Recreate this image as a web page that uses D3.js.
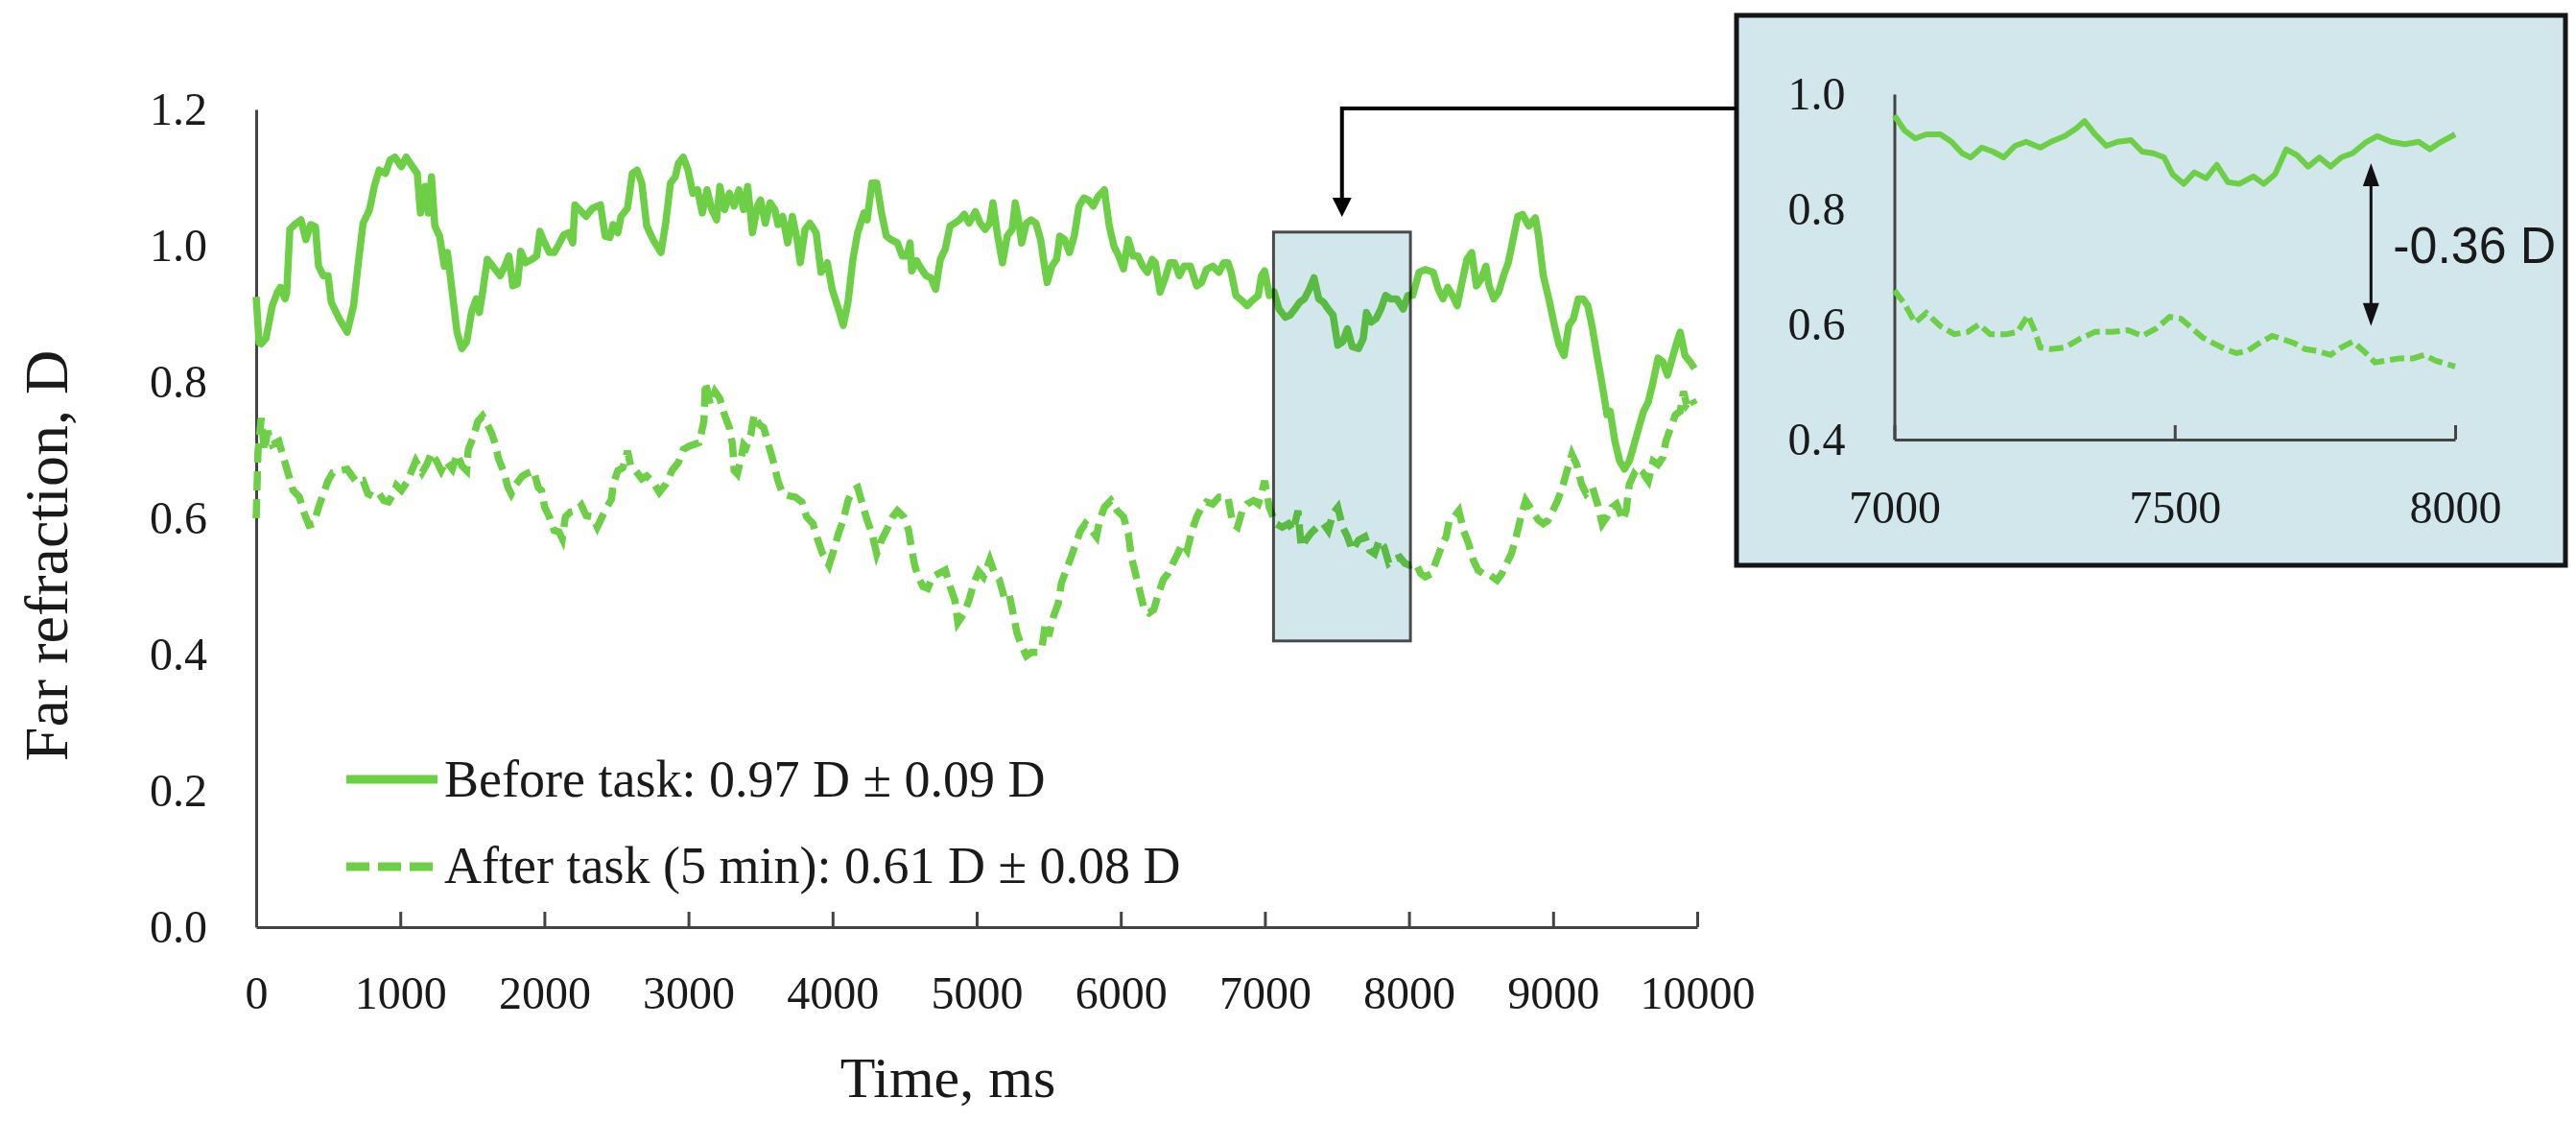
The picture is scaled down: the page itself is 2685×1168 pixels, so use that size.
<!DOCTYPE html>
<html>
<head>
<meta charset="utf-8">
<script src="https://cdn.jsdelivr.net/npm/d3@7"></script>
<style>
  html, body { margin: 0; padding: 0; background: #fff; }
  svg { display: block; }
  text { font-family: 'Palatino Linotype', 'Book Antiqua', Palatino, 'Liberation Serif', serif; fill: #1a1a1a; }
</style>
</head>
<body>
<svg id="chart" width="2685" height="1168"></svg>
<script>
// values: [time in ms, far refraction in D]
const beforeTask = [
  [0, 0.925], [20, 0.858], [35, 0.856], [68, 0.864], [112, 0.912], [146, 0.931], [168, 0.939], [201, 0.922], [212, 0.931],
  [234, 1.024], [267, 1.031], [311, 1.038], [345, 1.009], [378, 1.031], [411, 1.028], [433, 0.970], [466, 0.956], [499, 0.956],
  [521, 0.917], [576, 0.893], [632, 0.873], [676, 0.912], [709, 0.975], [742, 1.033], [787, 1.053], [820, 1.087], [853, 1.111],
  [897, 1.106], [930, 1.126], [963, 1.130], [1008, 1.116], [1041, 1.130], [1085, 1.116], [1118, 1.106], [1140, 1.048], [1173, 1.087],
  [1195, 1.048], [1217, 1.101], [1240, 1.029], [1273, 1.014], [1306, 0.970], [1328, 0.990], [1361, 0.931], [1394, 0.873], [1427, 0.849],
  [1461, 0.859], [1494, 0.902], [1527, 0.922], [1549, 0.902], [1571, 0.931], [1604, 0.980], [1649, 0.968], [1693, 0.956], [1726, 0.970],
  [1754, 0.985], [1781, 0.941], [1814, 0.944], [1836, 0.992], [1869, 0.975], [1914, 0.980], [1947, 0.985], [1969, 1.021], [2002, 1.004],
  [2035, 0.990], [2068, 0.990], [2101, 1.002], [2135, 1.016], [2168, 1.019], [2197, 1.004], [2212, 1.060], [2257, 1.050], [2289, 1.043],
  [2334, 1.055], [2389, 1.060], [2422, 1.014], [2455, 1.012], [2477, 1.031], [2510, 1.019], [2532, 1.043], [2577, 1.055], [2610, 1.106],
  [2643, 1.111], [2676, 1.092], [2710, 1.029], [2754, 1.009], [2809, 0.990], [2842, 1.033], [2875, 1.092], [2908, 1.101], [2930, 1.121],
  [2963, 1.130], [2997, 1.111], [3030, 1.077], [3063, 1.082], [3096, 1.048], [3129, 1.082], [3162, 1.053], [3195, 1.038], [3218, 1.087],
  [3251, 1.053], [3284, 1.077], [3317, 1.058], [3350, 1.082], [3383, 1.053], [3411, 1.087], [3444, 1.019], [3478, 1.058], [3500, 1.067],
  [3533, 1.033], [3566, 1.063], [3599, 1.053], [3621, 1.031], [3654, 1.043], [3688, 1.004], [3721, 1.043], [3754, 1.009], [3776, 0.975],
  [3809, 1.024], [3842, 1.033], [3886, 1.019], [3920, 0.961], [3964, 0.975], [3997, 0.936], [4041, 0.907], [4074, 0.883], [4107, 0.917],
  [4141, 0.980], [4174, 1.019], [4218, 1.048], [4240, 1.038], [4273, 1.092], [4306, 1.092], [4340, 1.048], [4373, 1.014], [4406, 1.009],
  [4450, 1.004], [4483, 0.985], [4516, 0.985], [4538, 1.004], [4549, 0.963], [4583, 0.978], [4616, 0.966], [4649, 0.956], [4682, 0.953],
  [4715, 0.936], [4748, 0.980], [4782, 0.995], [4815, 1.029], [4848, 1.033], [4881, 1.038], [4914, 1.046], [4947, 1.033], [4991, 1.050],
  [5025, 1.033], [5058, 1.024], [5091, 1.033], [5113, 1.063], [5146, 1.014], [5179, 0.975], [5212, 1.014], [5246, 1.024], [5268, 1.063],
  [5290, 1.038], [5312, 1.004], [5345, 1.033], [5378, 1.038], [5411, 1.033], [5444, 1.009], [5467, 0.975], [5489, 0.946], [5522, 0.970],
  [5555, 0.980], [5577, 1.014], [5610, 1.009], [5644, 0.990], [5677, 1.014], [5710, 1.058], [5743, 1.070], [5776, 1.067], [5809, 1.058],
  [5842, 1.072], [5886, 1.082], [5920, 1.029], [5953, 0.999], [5986, 0.985], [6019, 0.966], [6052, 1.009], [6085, 0.985], [6119, 0.985],
  [6152, 0.970], [6185, 0.961], [6218, 0.980], [6240, 0.975], [6273, 0.932], [6306, 0.951], [6340, 0.975], [6373, 0.975], [6406, 0.956],
  [6439, 0.970], [6483, 0.970], [6527, 0.941], [6561, 0.946], [6594, 0.965], [6638, 0.970], [6682, 0.961], [6715, 0.975], [6744, 0.975],
  [6766, 0.961], [6799, 0.927], [6843, 0.919], [6877, 0.912], [6910, 0.919], [6954, 0.927], [6976, 0.956], [6998, 0.963], [7031, 0.927],
  [7064, 0.932], [7098, 0.907], [7142, 0.895], [7175, 0.898], [7208, 0.907], [7241, 0.917], [7274, 0.922], [7308, 0.936], [7341, 0.953],
  [7374, 0.922], [7407, 0.917], [7440, 0.907], [7473, 0.898], [7506, 0.854], [7540, 0.859], [7573, 0.878], [7606, 0.852], [7650, 0.849],
  [7683, 0.864], [7705, 0.902], [7738, 0.888], [7772, 0.893], [7805, 0.907], [7838, 0.927], [7871, 0.922], [7915, 0.922], [7960, 0.907],
  [7993, 0.927], [8026, 0.927], [8070, 0.961], [8114, 0.965], [8169, 0.961], [8203, 0.936], [8236, 0.922], [8269, 0.939], [8302, 0.927],
  [8335, 0.912], [8368, 0.946], [8402, 0.980], [8435, 0.990], [8468, 0.941], [8501, 0.951], [8534, 0.970], [8556, 0.941], [8589, 0.922],
  [8623, 0.932], [8656, 0.956], [8689, 0.975], [8722, 1.009], [8755, 1.043], [8788, 1.046], [8832, 1.029], [8877, 1.041], [8899, 1.014],
  [8932, 0.956], [8976, 0.917], [9009, 0.883], [9042, 0.854], [9076, 0.839], [9109, 0.883], [9142, 0.893], [9175, 0.922], [9208, 0.922],
  [9241, 0.912], [9274, 0.878], [9308, 0.835], [9341, 0.796], [9374, 0.752], [9396, 0.757], [9429, 0.713], [9462, 0.684], [9495, 0.672],
  [9529, 0.684], [9562, 0.708], [9595, 0.733], [9628, 0.757], [9661, 0.771], [9694, 0.800], [9728, 0.835], [9761, 0.830], [9794, 0.810],
  [9827, 0.835], [9860, 0.859], [9882, 0.873], [9915, 0.839], [9949, 0.830], [9982, 0.820]
];

const afterTask = [
  [0, 0.600], [8, 0.660], [13, 0.699], [35, 0.747], [57, 0.699], [79, 0.728], [112, 0.708], [157, 0.713], [190, 0.689], [223, 0.665],
  [256, 0.641], [300, 0.631], [334, 0.607], [367, 0.590], [400, 0.592], [433, 0.616], [466, 0.636], [499, 0.655], [532, 0.667],
  [576, 0.670], [632, 0.672], [665, 0.662], [698, 0.653], [742, 0.655], [775, 0.636], [820, 0.631], [853, 0.636], [886, 0.626],
  [919, 0.624], [952, 0.636], [974, 0.648], [1008, 0.641], [1052, 0.655], [1074, 0.667], [1107, 0.684], [1151, 0.667], [1184, 0.679],
  [1217, 0.696], [1251, 0.684], [1284, 0.670], [1317, 0.684], [1361, 0.672], [1394, 0.694], [1428, 0.677], [1461, 0.670], [1472, 0.701],
  [1505, 0.718], [1538, 0.742], [1571, 0.750], [1604, 0.738], [1637, 0.723], [1660, 0.708], [1682, 0.687], [1715, 0.670], [1748, 0.645],
  [1770, 0.636], [1803, 0.650], [1848, 0.662], [1892, 0.667], [1925, 0.670], [1958, 0.645], [1980, 0.641], [2002, 0.616], [2035, 0.602],
  [2068, 0.582], [2101, 0.580], [2124, 0.570], [2146, 0.602], [2179, 0.609], [2223, 0.611], [2257, 0.619], [2290, 0.604], [2334, 0.602],
  [2367, 0.587], [2400, 0.602], [2433, 0.616], [2466, 0.628], [2477, 0.650], [2510, 0.670], [2544, 0.674], [2577, 0.699], [2599, 0.677],
  [2632, 0.670], [2676, 0.658], [2710, 0.662], [2754, 0.653], [2798, 0.638], [2842, 0.650], [2886, 0.670], [2930, 0.682], [2964, 0.701],
  [3008, 0.706], [3074, 0.711], [3107, 0.742], [3118, 0.800], [3151, 0.767], [3184, 0.786], [3217, 0.776], [3250, 0.752], [3284, 0.733],
  [3306, 0.708], [3317, 0.670], [3339, 0.665], [3361, 0.684], [3383, 0.708], [3400, 0.704], [3433, 0.723], [3456, 0.752], [3489, 0.738],
  [3522, 0.733], [3555, 0.708], [3588, 0.684], [3621, 0.655], [3654, 0.636], [3699, 0.633], [3743, 0.631], [3787, 0.624], [3820, 0.602],
  [3864, 0.592], [3898, 0.568], [3931, 0.548], [3975, 0.531], [4008, 0.553], [4041, 0.578], [4074, 0.597], [4107, 0.626], [4141, 0.641],
  [4174, 0.645], [4207, 0.621], [4240, 0.597], [4273, 0.578], [4306, 0.548], [4340, 0.568], [4373, 0.582], [4417, 0.602], [4450, 0.611],
  [4494, 0.602], [4528, 0.582], [4550, 0.553], [4572, 0.529], [4594, 0.514], [4627, 0.500], [4660, 0.497], [4693, 0.514], [4737, 0.519],
  [4782, 0.524], [4815, 0.500], [4848, 0.480], [4870, 0.447], [4914, 0.461], [4947, 0.480], [4980, 0.505], [5014, 0.522], [5047, 0.514],
  [5091, 0.539], [5124, 0.519], [5157, 0.510], [5190, 0.485], [5224, 0.490], [5257, 0.456], [5279, 0.432], [5312, 0.413], [5345, 0.398],
  [5378, 0.403], [5422, 0.403], [5455, 0.413], [5478, 0.447], [5500, 0.427], [5533, 0.456], [5566, 0.475], [5588, 0.505], [5621, 0.524],
  [5655, 0.543], [5688, 0.563], [5721, 0.582], [5754, 0.592], [5798, 0.582], [5831, 0.573], [5853, 0.597], [5886, 0.616], [5931, 0.626],
  [5975, 0.611], [6019, 0.602], [6052, 0.578], [6074, 0.543], [6096, 0.524], [6130, 0.495], [6163, 0.466], [6196, 0.461], [6229, 0.466],
  [6262, 0.490], [6295, 0.510], [6328, 0.519], [6362, 0.534], [6395, 0.548], [6428, 0.563], [6461, 0.553], [6494, 0.582], [6527, 0.602],
  [6561, 0.616], [6594, 0.624], [6638, 0.621], [6682, 0.631], [6726, 0.631], [6744, 0.631], [6777, 0.592], [6810, 0.587], [6843, 0.611],
  [6877, 0.621], [6921, 0.626], [6954, 0.621], [6976, 0.636], [6998, 0.655], [7031, 0.616], [7076, 0.592], [7120, 0.587], [7164, 0.592],
  [7197, 0.582], [7230, 0.611], [7252, 0.558], [7285, 0.568], [7319, 0.578], [7363, 0.587], [7407, 0.592], [7440, 0.582], [7473, 0.607],
  [7506, 0.616], [7540, 0.587], [7573, 0.573], [7606, 0.553], [7650, 0.568], [7694, 0.573], [7727, 0.553], [7761, 0.548], [7794, 0.568],
  [7827, 0.558], [7860, 0.534], [7893, 0.539], [7937, 0.543], [7971, 0.534], [8004, 0.531], [8048, 0.534], [8081, 0.519], [8114, 0.514],
  [8158, 0.519], [8192, 0.539], [8225, 0.558], [8258, 0.573], [8280, 0.597], [8313, 0.602], [8346, 0.611], [8379, 0.582], [8413, 0.563],
  [8446, 0.539], [8479, 0.524], [8512, 0.519], [8545, 0.519], [8578, 0.514], [8611, 0.509], [8645, 0.519], [8678, 0.534], [8711, 0.548],
  [8744, 0.573], [8777, 0.602], [8810, 0.626], [8855, 0.611], [8899, 0.597], [8932, 0.592], [8965, 0.597], [8998, 0.611], [9031, 0.626],
  [9064, 0.645], [9097, 0.670], [9131, 0.694], [9164, 0.679], [9197, 0.650], [9230, 0.636], [9274, 0.645], [9308, 0.621], [9341, 0.592],
  [9374, 0.602], [9407, 0.616], [9440, 0.621], [9485, 0.597], [9507, 0.611], [9529, 0.650], [9562, 0.665], [9595, 0.657], [9628, 0.665],
  [9661, 0.655], [9694, 0.684], [9728, 0.679], [9761, 0.689], [9783, 0.713], [9816, 0.733], [9849, 0.752], [9882, 0.757], [9905, 0.786],
  [9927, 0.767], [9960, 0.776], [9982, 0.767]
];

const insetBefore = [
  [7000, 0.963], [7018, 0.937], [7037, 0.923], [7057, 0.930], [7082, 0.930], [7102, 0.917], [7121, 0.897], [7136, 0.890], [7156, 0.907],
  [7176, 0.900], [7195, 0.890], [7215, 0.910], [7235, 0.917], [7260, 0.907], [7279, 0.917], [7304, 0.927], [7324, 0.940], [7339, 0.953],
  [7358, 0.930], [7378, 0.910], [7398, 0.917], [7422, 0.920], [7442, 0.900], [7462, 0.897], [7481, 0.890], [7496, 0.861], [7516, 0.844],
  [7535, 0.864], [7556, 0.854], [7575, 0.877], [7595, 0.847], [7615, 0.844], [7640, 0.857], [7659, 0.844], [7679, 0.861], [7699, 0.904],
  [7718, 0.894], [7738, 0.874], [7758, 0.890], [7778, 0.874], [7797, 0.890], [7817, 0.897], [7842, 0.917], [7861, 0.927], [7886, 0.917],
  [7910, 0.913], [7935, 0.917], [7955, 0.904], [7975, 0.917], [8000, 0.930]
];

const insetAfter = [
  [7000, 0.659], [7018, 0.636], [7037, 0.603], [7057, 0.620], [7082, 0.597], [7107, 0.583], [7131, 0.587], [7151, 0.600], [7171, 0.583],
  [7200, 0.583], [7220, 0.587], [7238, 0.616], [7250, 0.590], [7260, 0.560], [7279, 0.557], [7304, 0.560], [7329, 0.574], [7358, 0.587],
  [7388, 0.587], [7417, 0.590], [7442, 0.580], [7467, 0.593], [7491, 0.613], [7511, 0.610], [7531, 0.593], [7550, 0.577], [7570, 0.567],
  [7590, 0.557], [7610, 0.550], [7630, 0.554], [7650, 0.567], [7674, 0.580], [7694, 0.574], [7714, 0.567], [7733, 0.557], [7753, 0.554],
  [7778, 0.547], [7797, 0.560], [7817, 0.570], [7837, 0.554], [7857, 0.534], [7876, 0.537], [7901, 0.541], [7925, 0.541], [7945, 0.547],
  [7965, 0.537], [7985, 0.531], [8000, 0.527]
];

const xTicks = [0, 1000, 2000, 3000, 4000, 5000, 6000, 7000, 8000, 9000, 10000];
const yTicks = [0.0, 0.2, 0.4, 0.6, 0.8, 1.0, 1.2];
const insetXTicks = [7000, 7500, 8000];
const insetYTicks = [0.4, 0.6, 0.8, 1.0];
const legendLabels = ['Before task: 0.97 D \u00b1 0.09 D', 'After task (5 min): 0.61 D \u00b1 0.08 D'];
const highlightTime = [7060, 8010];
const highlightValue = [0.42, 1.02];
const gapMark = { time: 7850, from: 0.880, to: 0.597, label: '-0.36 D' };

const green = '#6ccf46';
const axisColor = '#444';
const svg = d3.select('#chart');

const x = d3.scaleLinear().domain([0, 10000]).range([267, 1769]);
const y = d3.scaleLinear().domain([0, 1.2]).range([966, 114]);

function styleAxis(g, size) {
  g.attr('font-family', null).attr('font-size', size);
  g.select('.domain').attr('stroke', axisColor).attr('stroke-width', 3);
  g.selectAll('.tick line').attr('stroke', axisColor).attr('stroke-width', 3);
  g.selectAll('.tick text').attr('fill', '#1a1a1a');
}

// main axes
svg.append('g')
  .attr('transform', `translate(0,${y(0)})`)
  .call(d3.axisBottom(x).tickValues(xTicks).tickFormat(d3.format('d')).tickSizeInner(-16).tickSizeOuter(0).tickPadding(51))
  .call((g) => styleAxis(g, 48));
svg.append('g')
  .attr('transform', `translate(${x(0)},0)`)
  .call(d3.axisLeft(y).tickValues(yTicks).tickFormat(d3.format('.1f')).tickSize(0).tickPadding(51))
  .call((g) => styleAxis(g, 48));

svg.append('text').attr('x', 988).attr('y', 1143).attr('text-anchor', 'middle').attr('font-size', 60).text('Time, ms');
svg.append('text').attr('transform', 'translate(70,579) rotate(-90)').attr('text-anchor', 'middle').attr('font-size', 64).text('Far refraction, D');

// series
const line = d3.line().x((d) => x(d[0])).y((d) => y(d[1]));
svg.append('path').datum(beforeTask).attr('d', line).attr('fill', 'none').attr('stroke', green)
  .attr('stroke-width', 7.5).attr('stroke-linejoin', 'round');
svg.append('path').datum(afterTask).attr('d', line).attr('fill', 'none').attr('stroke', green)
  .attr('stroke-width', 7.5).attr('stroke-dasharray', '20,9');

// highlighted window
const hx0 = x(highlightTime[0]);
const hx1 = x(highlightTime[1]);
svg.append('rect')
  .attr('x', hx0).attr('y', y(highlightValue[1]))
  .attr('width', hx1 - hx0).attr('height', y(highlightValue[0]) - y(highlightValue[1]))
  .attr('fill', '#d1e7ec').attr('stroke', '#4a4a4a').attr('stroke-width', 3)
  .style('mix-blend-mode', 'multiply');

// legend
const legend = svg.append('g');
legend.append('line').attr('x1', 361).attr('x2', 456).attr('y1', 812).attr('y2', 812)
  .attr('stroke', green).attr('stroke-width', 9);
legend.append('line').attr('x1', 361).attr('x2', 456).attr('y1', 903).attr('y2', 903)
  .attr('stroke', green).attr('stroke-width', 9).attr('stroke-dasharray', '24,9');
legend.selectAll('text.lg').data(legendLabels).join('text').attr('class', 'lg')
  .attr('x', 463).attr('y', (d, i) => [830, 920][i]).attr('font-size', 54).text((d) => d);

// inset box
svg.append('rect').attr('x', 1810).attr('y', 16).attr('width', 864).attr('height', 573)
  .attr('fill', '#d1e7ec').attr('stroke', '#151515').attr('stroke-width', 5);

// leader from inset to highlighted window
const cx = (hx0 + hx1) / 2;
svg.append('path').attr('d', `M1810,113H${cx}V208`).attr('fill', 'none').attr('stroke', '#000').attr('stroke-width', 4);
svg.append('path').attr('d', `M${cx - 10},206L${cx + 10},206L${cx},226Z`).attr('fill', '#000');

const ix = d3.scaleLinear().domain([7000, 8000]).range([1974.5, 2559]);
const iy = d3.scaleLinear().domain([0.4, 1.0]).range([458, 98]);

svg.append('g')
  .attr('transform', `translate(0,${iy(0.4)})`)
  .call(d3.axisBottom(ix).tickValues(insetXTicks).tickFormat(d3.format('d')).tickSizeInner(-15).tickSizeOuter(0).tickPadding(53))
  .call((g) => styleAxis(g, 48));
svg.append('g')
  .attr('transform', `translate(${ix(7000)},0)`)
  .call(d3.axisLeft(iy).tickValues(insetYTicks).tickFormat(d3.format('.1f')).tickSize(0).tickPadding(51))
  .call((g) => styleAxis(g, 48));

const insetLine = d3.line().x((d) => ix(d[0])).y((d) => iy(d[1]));
svg.append('path').datum(insetBefore).attr('d', insetLine).attr('fill', 'none').attr('stroke', green)
  .attr('stroke-width', 6).attr('stroke-linejoin', 'round');
svg.append('path').datum(insetAfter).attr('d', insetLine).attr('fill', 'none').attr('stroke', green)
  .attr('stroke-width', 6).attr('stroke-dasharray', '15,6');

// difference arrow
const ax = ix(gapMark.time);
const ay0 = iy(gapMark.from);
const ay1 = iy(gapMark.to);
svg.append('line').attr('x1', ax).attr('x2', ax).attr('y1', ay0 + 20).attr('y2', ay1 - 20)
  .attr('stroke', '#111').attr('stroke-width', 3);
svg.append('path').attr('d', `M${ax},${ay0}L${ax + 8.5},${ay0 + 24}L${ax - 8.5},${ay0 + 24}Z`).attr('fill', '#111');
svg.append('path').attr('d', `M${ax},${ay1}L${ax + 8.5},${ay1 - 24}L${ax - 8.5},${ay1 - 24}Z`).attr('fill', '#111');
svg.append('text').attr('x', ax + 23).attr('y', (ay0 + ay1) / 2 + 19)
  .attr('font-size', 54).attr('textLength', 170).attr('lengthAdjust', 'spacingAndGlyphs')
  .style('font-family', "'Arial Narrow', 'Liberation Sans Narrow', Arial, 'Liberation Sans', sans-serif")
  .text(gapMark.label);
</script>
</body>
</html>
